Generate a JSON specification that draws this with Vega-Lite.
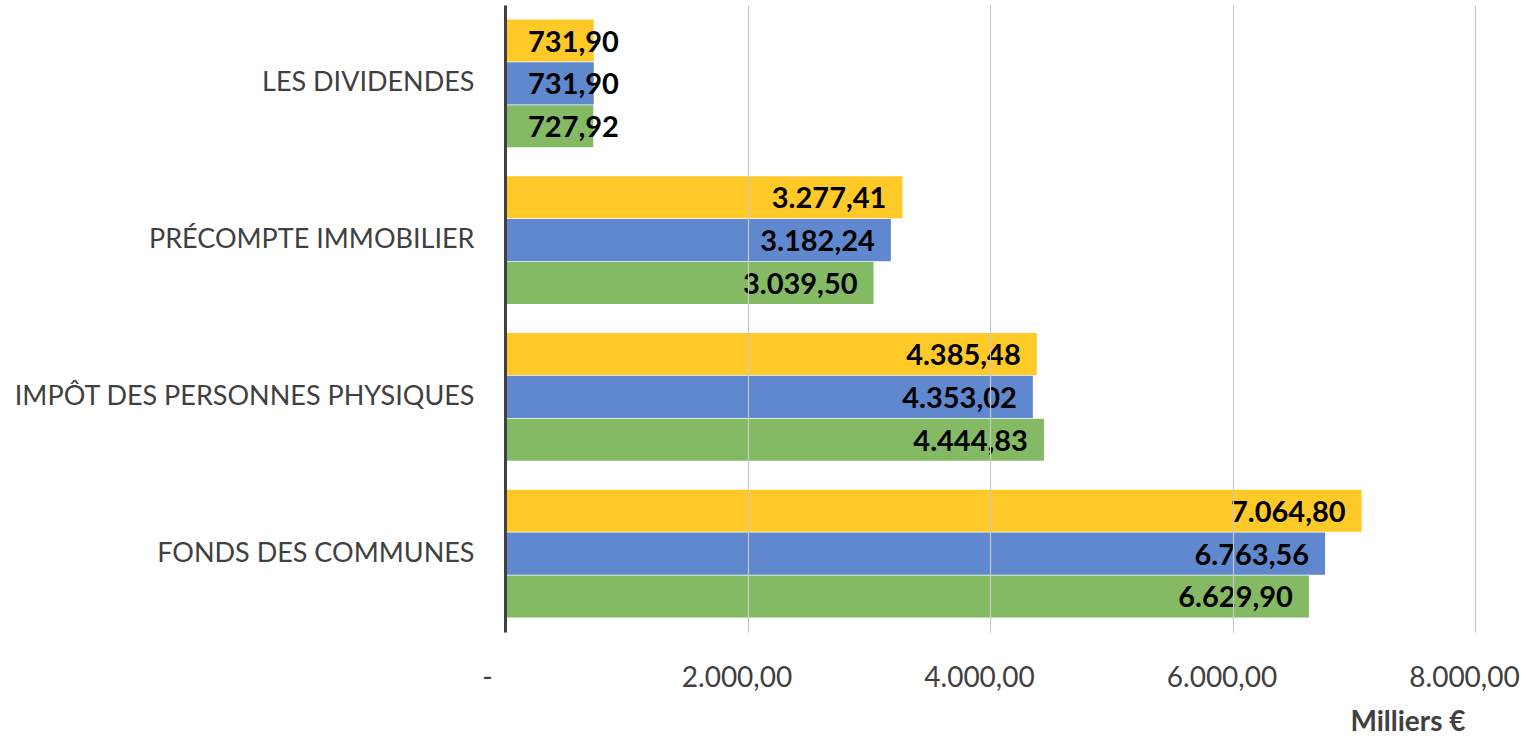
{
  "$schema": "https://vega.github.io/schema/vega-lite/v6.json",
  "autosize": "none",
  "padding": {"left": 505, "top": 5, "right": 53, "bottom": 104},
  "width": 970,
  "height": 627,
  "background": "white",
  "config": {
    "locale": {"number": {"decimal": ",", "thousands": ".", "grouping": [3], "currency": ["", " €"]}},
    "view": {"stroke": null},
    "font": "Lato"
  },
  "data": {
    "values": [
      {"categorie": "LES DIVIDENDES", "serie": "Série 1", "montant": 731.90},
      {"categorie": "LES DIVIDENDES", "serie": "Série 2", "montant": 731.90},
      {"categorie": "LES DIVIDENDES", "serie": "Série 3", "montant": 727.92},
      {"categorie": "PRÉCOMPTE IMMOBILIER", "serie": "Série 1", "montant": 3277.41},
      {"categorie": "PRÉCOMPTE IMMOBILIER", "serie": "Série 2", "montant": 3182.24},
      {"categorie": "PRÉCOMPTE IMMOBILIER", "serie": "Série 3", "montant": 3039.50},
      {"categorie": "IMPÔT DES PERSONNES PHYSIQUES", "serie": "Série 1", "montant": 4385.48},
      {"categorie": "IMPÔT DES PERSONNES PHYSIQUES", "serie": "Série 2", "montant": 4353.02},
      {"categorie": "IMPÔT DES PERSONNES PHYSIQUES", "serie": "Série 3", "montant": 4444.83},
      {"categorie": "FONDS DES COMMUNES", "serie": "Série 1", "montant": 7064.80},
      {"categorie": "FONDS DES COMMUNES", "serie": "Série 2", "montant": 6763.56},
      {"categorie": "FONDS DES COMMUNES", "serie": "Série 3", "montant": 6629.90}
    ]
  },
  "encoding": {
    "y": {
      "field": "categorie",
      "type": "nominal",
      "sort": ["LES DIVIDENDES", "PRÉCOMPTE IMMOBILIER", "IMPÔT DES PERSONNES PHYSIQUES", "FONDS DES COMMUNES"],
      "scale": {"paddingInner": 0.185, "paddingOuter": 0.0925},
      "axis": {
        "title": null,
        "ticks": false,
        "domain": true,
        "domainColor": "#404040",
        "domainWidth": 3,
        "labelFont": "Lato",
        "labelFontSize": 27,
        "labelColor": "#404040",
        "labelPadding": 31,
        "labelLimit": 600,
        "zindex": 2
      }
    },
    "yOffset": {
      "field": "serie",
      "type": "nominal",
      "sort": ["Série 1", "Série 2", "Série 3"],
      "scale": {"paddingInner": 0.02}
    }
  },
  "layer": [
    {
      "mark": {"type": "bar"},
      "encoding": {
        "x": {
          "field": "montant",
          "type": "quantitative",
          "scale": {"domain": [0, 8000], "nice": false},
          "axis": {
            "title": "Milliers €",
            "titleFont": "Lato",
            "titleFontSize": 28,
            "titleFontWeight": "bold",
            "titleColor": "#404040",
            "titleAnchor": "end",
            "titleAlign": "right",
            "titleX": 960,
            "titleY": 98,
            "titleBaseline": "alphabetic",
            "values": [0, 2000, 4000, 6000, 8000],
            "format": ",.2f",
            "labelExpr": "datum.value == 0 ? '-' : datum.label",
            "labelFont": "Lato",
            "labelFontSize": 28,
            "labelColor": "#404040",
            "labelPadding": 32,
            "labelOffset": {"condition": {"test": "datum.value == 0", "value": -18}, "value": -11},
            "labelFlush": false,
            "domain": false,
            "ticks": false,
            "grid": true,
            "gridColor": "#c8c8c8",
            "gridWidth": 1.2,
            "zindex": 1
          }
        },
        "color": {
          "field": "serie",
          "type": "nominal",
          "scale": {"domain": ["Série 1", "Série 2", "Série 3"], "range": ["#FFC928", "#5F88CE", "#85BA64"]},
          "legend": null
        }
      }
    },
    {
      "transform": [{"filter": "datum.montant >= 1000"}],
      "mark": {"type": "text", "align": "right", "baseline": "middle", "dx": -16, "dy": 2, "fontWeight": "bold", "fontSize": 29, "font": "Lato", "color": "#000000"},
      "encoding": {
        "x": {"field": "montant", "type": "quantitative"},
        "text": {"field": "montant", "type": "quantitative", "format": ",.2f"}
      }
    },
    {
      "transform": [{"filter": "datum.montant < 1000"}],
      "mark": {"type": "text", "align": "left", "baseline": "middle", "dx": 23, "dy": 2, "fontWeight": "bold", "fontSize": 29, "font": "Lato", "color": "#000000"},
      "encoding": {
        "x": {"datum": 0, "type": "quantitative"},
        "text": {"field": "montant", "type": "quantitative", "format": ",.2f"}
      }
    }
  ]
}
